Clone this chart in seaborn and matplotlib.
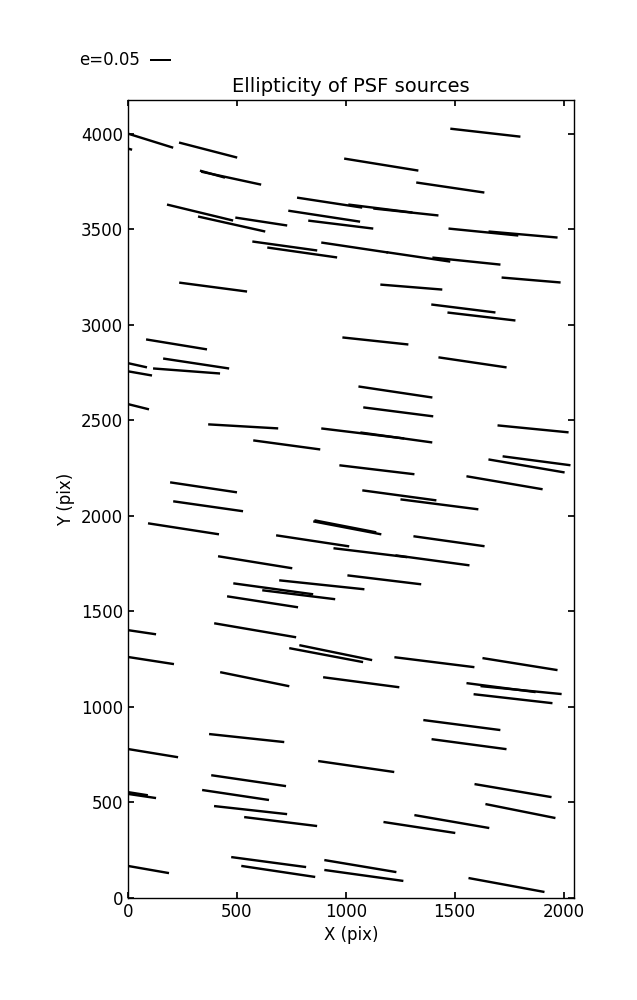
import numpy as np
import seaborn as sns
import matplotlib.pyplot as plt

# PSF source positions (pix), ellipticity and position angle (deg)
x_pix = [76, -103, 368, 474, 388, 1163, 331, 476, 612, 720, 800, 926, 1159, 1276, 901, 977,
         1641, 1480, 1632, 1814, 1041, 1333, 1554, 1851, 391, 1301, 1540, 1623, 1136, 223,
         313, 1582, -36, 269, -14, 1228, -26, 1241, 529, 1860, 1078, 1232, 729, 1876, 1830,
         1143, 1729, 347, 1246, 1430, 368, 1007, 998, 255, 848, 1474, 1113, 1398, 584, 1177,
         890, 667, 784, 618, 4, 584, 954, 910, 75, 1407, 1800, 582, 1071, 1713, 1805, 1768,
         1533, 545, 1566, 94, 1048, 554, 1768, 494, -22, 4, 1802, 563, 1487, 701, 1338, 64,
         646, 690, 1067, 1083, 1738]
y_pix = [3973, 3953, 3914, 3767, 3788, 3838, 3587, 3527, 3540, 3412, 3378, 3639, 3608, 3590,
         3568, 3524, 4005, 3718, 3485, 3472, 3404, 3355, 3333, 3234, 3197, 3197, 3085, 3043,
         2915, 2897, 2797, 2803, 2808, 2758, 2759, 2648, 2592, 2544, 2468, 2455, 2431, 2410,
         2371, 2288, 2261, 2241, 2173, 2149, 2107, 2060, 2050, 1937, 1945, 1932, 1869, 1867,
         1807, 1767, 1757, 1665, 1639, 1618, 1587, 1550, 1401, 1401, 1284, 1271, 1248, 1234,
         1224, 1145, 1129, 1101, 1088, 1043, 905, 837, 805, 762, 688, 614, 562, 539, 558, 544,
         455, 460, 400, 400, 369, 155, 188, 139, 167, 118, 68]
ellip = [0.143, 0.131, 0.143, 0.146, 0.062, 0.179, 0.162, 0.164, 0.125, 0.156, 0.168, 0.157,
         0.154, 0.156, 0.173, 0.156, 0.168, 0.164, 0.167, 0.165, 0.161, 0.154, 0.163, 0.141,
         0.163, 0.148, 0.154, 0.163, 0.158, 0.147, 0.159, 0.164, 0.131, 0.160, 0.131, 0.178,
         0.131, 0.168, 0.167, 0.170, 0.199, 0.173, 0.161, 0.163, 0.184, 0.180, 0.184, 0.161,
         0.178, 0.187, 0.168, 0.165, 0.150, 0.171, 0.176, 0.171, 0.177, 0.178, 0.179, 0.177,
         0.204, 0.192, 0.175, 0.171, 0.131, 0.198, 0.177, 0.179, 0.143, 0.192, 0.181, 0.168,
         0.183, 0.166, 0.194, 0.189, 0.185, 0.180, 0.180, 0.143, 0.183, 0.180, 0.186, 0.161,
         0.119, 0.131, 0.170, 0.175, 0.181, 0.175, 0.173, 0.131, 0.180, 0.178, 0.174, 0.190,
         0.184]
angle = [-17.3, -15.0, -14.5, -12.2, -15.6, -9.2, -13.6, -12.6, -8.7, -7.9, -8.1, -8.7, -7.1,
         -6.1, -8.7, -7.0, -6.5, -8.4, -5.7, -5.0, -8.5, -8.4, -5.9, -4.8, -7.5, -4.6, -7.1,
         -6.7, -6.1, -9.3, -8.6, -8.4, -12.5, -4.3, -9.9, -8.5, -14.0, -7.3, -3.3, -5.6, -6.9,
         -7.9, -7.7, -7.5, -9.7, -6.8, -9.7, -8.5, -7.7, -7.3, -8.1, -10.8, -11.0, -8.8, -8.6,
         -8.0, -6.9, -7.7, -9.2, -6.9, -6.0, -7.8, -7.0, -8.8, -8.4, -9.7, -11.6, -10.7, -8.8,
         -7.1, -9.1, -11.5, -7.5, -7.4, -5.6, -6.5, -7.4, -6.1, -7.6, -9.3, -8.2, -8.3, -9.6,
         -8.5, -9.0, -8.4, -11.3, -6.3, -9.8, -7.0, -8.7, -9.9, -7.6, -8.5, -9.5, -7.9, -10.4]

sns.set_theme(style="ticks", rc={
    "xtick.direction": "in", "ytick.direction": "in",
    "xtick.top": True, "ytick.right": True,
    "xtick.major.size": 4, "ytick.major.size": 4,
    "axes.edgecolor": "black", "axes.linewidth": 1.0,
    "text.color": "black", "axes.labelcolor": "black",
    "xtick.color": "black", "ytick.color": "black",
})
plt.rcParams["font.family"] = ["DejaVu Sans"]

fig = plt.figure(figsize=(6.37, 10), dpi=100)
ax = fig.add_axes([0.2009, 0.102, 0.7002, 0.798])

e = np.array(ellip)
Q = ax.quiver(x_pix, y_pix, e, np.zeros_like(e), angles=np.array(angle),
              pivot="middle", headwidth=1, headlength=0, headaxislength=0,
              units="inches", width=0.024, scale_units="inches", scale=0.05 / 0.21,
              color="black")
# key line starts (tail) at this position, label sits to its left
ax.quiverkey(Q, 0.2355, 0.94, 0.05, "e=0.05", labelpos="W", coordinates="figure",
             fontproperties={"size": 12})

ax.set_xlim(0, 2048)
ax.set_ylim(0, 4176)
ax.set_xticks([0, 500, 1000, 1500, 2000])
ax.set_yticks(range(0, 4001, 500))
ax.tick_params(labelsize=12)
ax.set_xlabel("X (pix)", fontsize=12)
ax.set_ylabel("Y (pix)", fontsize=12)
ax.set_title("Ellipticity of PSF sources", fontsize=14)

fig.savefig("out.png", dpi=100)
